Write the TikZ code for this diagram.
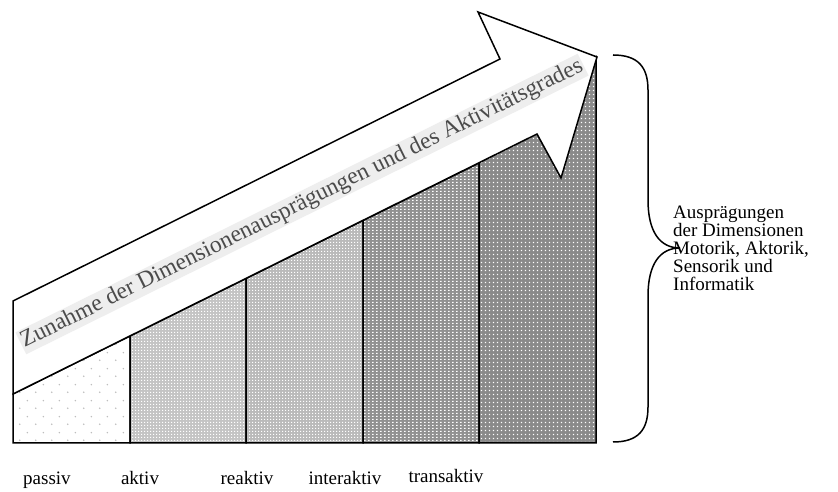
\documentclass[tikz,border=0pt]{standalone}
\usepackage{fontspec}
\setmainfont{Liberation Serif}
\usetikzlibrary{patterns}
\definecolor{Ink}{RGB}{0,0,0}
\definecolor{DotGray}{RGB}{190,190,190}
\definecolor{PaleGray}{RGB}{196,196,196}
\definecolor{SoftGray}{RGB}{186,186,186}
\definecolor{DarkGray}{RGB}{145,145,145}
\definecolor{DeepGray}{RGB}{138,138,138}
\definecolor{TextGray}{RGB}{75,75,75}
\definecolor{Halo}{RGB}{238,238,238}
\pgfdeclarepatternformonly{sparsedots}{\pgfpointorigin}{\pgfqpoint{16pt}{16pt}}{\pgfqpoint{16pt}{16pt}}{
  \pgfpathcircle{\pgfqpoint{4pt}{4pt}}{.9pt}
  \pgfpathcircle{\pgfqpoint{12pt}{12pt}}{.9pt}
  \pgfusepath{fill}
}
\pgfdeclarepatternformonly{finecheck}{\pgfpointorigin}{\pgfqpoint{3pt}{3pt}}{\pgfqpoint{3pt}{3pt}}{
  \pgfpathrectangle{\pgfpointorigin}{\pgfqpoint{1.5pt}{1.5pt}}
  \pgfusepath{fill}
}
\pgfdeclarepatternformonly{whitecells}{\pgfpointorigin}{\pgfqpoint{4pt}{3pt}}{\pgfqpoint{4pt}{3pt}}{
  \pgfpathrectangle{\pgfpointorigin}{\pgfqpoint{2pt}{1.5pt}}
  \pgfusepath{fill}
}
\pgfdeclarepatternformonly{whitedots}{\pgfpointorigin}{\pgfqpoint{4pt}{4pt}}{\pgfqpoint{4pt}{4pt}}{
  \pgfpathrectangle{\pgfqpoint{1pt}{1pt}}{\pgfqpoint{1.5pt}{1.5pt}}
  \pgfusepath{fill}
}
\tikzset{
  bar/.style={draw=Ink,line width=1.5pt,line join=miter},
  passivbar/.style={bar,pattern=sparsedots,pattern color=DotGray},
  aktivbar/.style={bar,preaction={fill=PaleGray},pattern=finecheck,pattern color=white},
  reaktivbar/.style={bar,preaction={fill=SoftGray},pattern=finecheck,pattern color=white},
  interaktivbar/.style={bar,preaction={fill=DarkGray},pattern=whitecells,pattern color=white},
  transaktivbar/.style={bar,preaction={fill=DeepGray},pattern=whitedots,pattern color=white},
  trendarrow/.style={draw=Ink,fill=white,line width=1.5pt,line join=miter},
  brace/.style={draw=Ink,line width=1.5pt},
  stage/.style={font=\fontsize{19}{19}\selectfont,text=Ink,anchor=base,inner sep=0pt},
  dims/.style={font=\fontsize{19}{18}\selectfont,text=Ink,align=left,anchor=west,inner sep=0pt},
  trend/.style={font=\fontsize{23.5}{24}\selectfont,text=TextGray,fill=Halo,inner sep=1.5pt}
}
\begin{document}
\begin{tikzpicture}[x=1pt,y=1pt]
  \useasboundingbox (0,0) rectangle (838,492);
  % stages
  \path[passivbar] (13,49) -- (13,98) -- (130,156) -- (130,49) -- cycle;
  \path[aktivbar] (130,49) -- (130,156) -- (246,213.5) -- (246,49) -- cycle;
  \path[reaktivbar] (246,49) -- (246,213.5) -- (363,271.5) -- (363,49) -- cycle;
  \path[interaktivbar] (363,49) -- (363,271.5) -- (479,329) -- (479,49) -- cycle;
  \path[transaktivbar] (479,49) -- (479,329) -- (596,435) -- (596,49) -- cycle;
  % big arrow on top
  \path[trendarrow] (13,98) -- (13,191) -- (500,433) -- (478,480) -- (597,435)
    -- (561,314) -- (537,358) -- cycle;
  \node[trend,rotate=26.37] (trend) at (302,288) {Zunahme der Dimensionenausprägungen und des Aktivitätsgrades};
  % brace
  \path[brace] (613,437) .. controls (638,437) and (648,425) .. (648,402) -- (648,292)
    .. controls (648,260) and (660,244) .. (680,244)
    .. controls (660,244) and (648,228) .. (648,196) -- (648,85)
    .. controls (648,62) and (638,50) .. (613,50);
  \node[dims] (dims) at (673,244) {Ausprägungen\\der Dimensionen\\Motorik, Aktorik,\\Sensorik und\\Informatik};
  % labels
  \node[stage] (passiv) at (47,7) {passiv};
  \node[stage] (aktiv) at (140,7) {aktiv};
  \node[stage] (reaktiv) at (247,7) {reaktiv};
  \node[stage] (interaktiv) at (345,7) {interaktiv};
  \node[stage] (transaktiv) at (446,9) {transaktiv};
\end{tikzpicture}
\end{document}
